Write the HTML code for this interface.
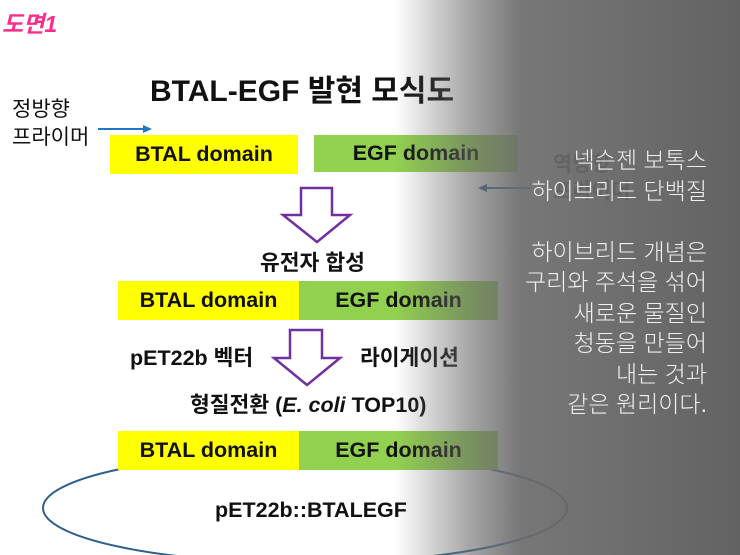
<!DOCTYPE html>
<html><head><meta charset="utf-8"><style>
body{margin:0}
#c{position:relative;width:740px;height:555px;overflow:hidden;background:#fff;font-family:"Liberation Sans","Noto Sans CJK KR",sans-serif;}
.t{position:absolute;white-space:nowrap;}
.b{font-weight:bold;font-size:21.5px;color:#111;}
.box{position:absolute;height:39px;line-height:39px;text-align:center;font-weight:bold;font-size:21.5px;color:#111;}
.y{background:#ffff00}.g{background:#92d050}
#ov{position:absolute;left:0;top:0;width:740px;height:555px;background:linear-gradient(to right,rgba(100,100,100,0) 395px,rgba(105,105,105,0.6) 470px,rgba(108,108,108,0.92) 520px,rgba(92,92,92,0.96) 740px);}
.r{position:absolute;right:33px;text-align:right;color:#f0f0f0;font-size:23px;line-height:30.5px;font-family:"Liberation Sans","Noto Sans CJK KR",sans-serif;font-weight:300}
</style></head><body><div id="c">
<div class="t" style="left:2px;top:5px;color:#ff2d8a;font-style:italic;font-size:23px;font-weight:bold">도면1</div>
<div class="t" style="left:150px;top:66px;font-weight:bold;font-size:30px;color:#111">BTAL-EGF 발현 모식도</div>
<div class="t" style="left:12px;top:96px;line-height:28px;font-size:21px;color:#111">정방향<br>프라이머</div>
<svg style="position:absolute;left:0;top:0" width="740" height="555">
<line x1="98" y1="129" x2="145" y2="129" stroke="#1f77c4" stroke-width="2"/>
<polygon points="152,129 143,125 143,133" fill="#1f77c4"/>
<line x1="485" y1="188" x2="530" y2="188" stroke="#1f5f94" stroke-width="2"/>
<polygon points="478,188 487,184 487,192" fill="#1f5f94"/>
<polygon points="301,188 332,188 332,215 350,215 317,242 283,215 301,215" fill="none" stroke="#7030a0" stroke-width="2.5"/>
<polygon points="290,330 322,330 322,358 340,358 307,385 274,358 290,358" fill="none" stroke="#7030a0" stroke-width="2.5"/>
<ellipse cx="305" cy="508" rx="262" ry="55" fill="none" stroke="#2e5f8e" stroke-width="2"/>
</svg>
<div class="box y" style="left:110px;top:135px;width:188px">BTAL domain</div>
<div class="box g" style="left:314px;top:135px;width:204px;height:37px;line-height:37px">EGF domain</div>
<div class="t" style="left:553px;top:151px;line-height:27px;font-size:21px;font-weight:bold;color:#222">역방향<br>프라이머</div>
<div class="t b" style="left:260px;top:246px">유전자 합성</div>
<div class="box y" style="left:118px;top:281px;width:181px">BTAL domain</div>
<div class="box g" style="left:299px;top:281px;width:199px">EGF domain</div>
<div class="t b" style="left:130px;top:341px">pET22b 벡터</div>
<div class="t b" style="left:360px;top:341px">라이게이션</div>
<div class="t b" style="left:190px;top:388px">형질전환 (<i>E. coli</i> TOP10)</div>
<div class="box y" style="left:118px;top:431px;width:181px">BTAL domain</div>
<div class="box g" style="left:299px;top:431px;width:199px">EGF domain</div>
<div class="t b" style="left:215px;top:498px">pET22b::BTALEGF</div>
<div id="ov"></div>
<div class="r" style="top:145px">넥슨젠 보톡스<br>하이브리드 단백질<br><br>하이브리드 개념은<br>구리와 주석을 섞어<br>새로운 물질인<br>청동을 만들어<br>내는 것과<br>같은 원리이다.</div>
</div></body></html>
